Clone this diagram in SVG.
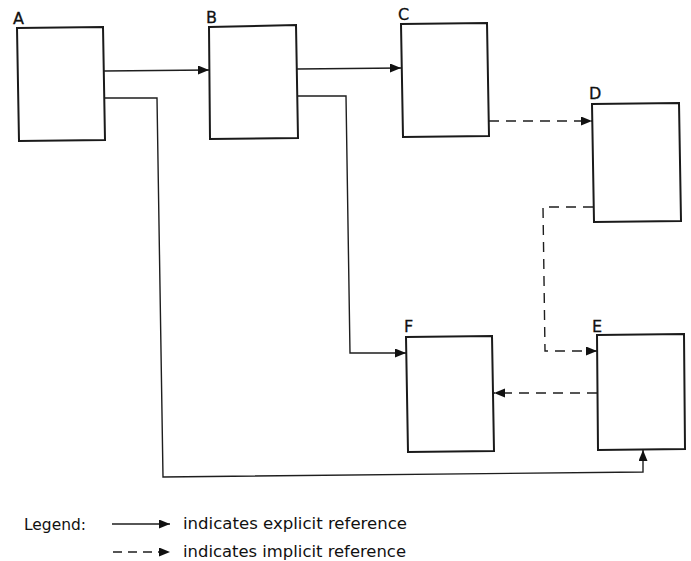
<svg xmlns="http://www.w3.org/2000/svg" width="691" height="561" viewBox="0 0 691 561">
  <style>
    .box { fill: #fff; stroke: #1a1a1a; stroke-width: 2; stroke-linejoin: miter; }
    .lbl { font-family: "DejaVu Sans", "Liberation Sans", sans-serif; font-size: 16px; fill: #111; stroke: #111; stroke-width: 0.3; }
    .wire { fill: none; stroke: #1e1e1e; stroke-width: 1.4; }
    .dash { stroke-dasharray: 10 7; }
    .legend { font-family: "DejaVu Sans", "Liberation Sans", sans-serif; font-size: 15px; fill: #111; }
  </style>
  <defs>
    <marker id="arrow" markerUnits="userSpaceOnUse" markerWidth="12" markerHeight="10" refX="11" refY="4.5" orient="auto">
      <path d="M0,0 L11,4.5 L0,9 Z" fill="#111"/>
    </marker>
  </defs>
  <rect width="691" height="561" fill="#fff"/>

  <!-- modules -->
  <g id="node-A">
    <path class="box" d="M17,28 L103,27 L105,140 L19,141 Z"/>
    <text class="lbl" x="13" y="24">A</text>
  </g>
  <g id="node-B">
    <path class="box" d="M209,27 L296,25 L298,138 L210,139 Z"/>
    <text class="lbl" x="206" y="23">B</text>
  </g>
  <g id="node-C">
    <path class="box" d="M401,24 L487,23 L489,136 L403,137 Z"/>
    <text class="lbl" x="398" y="20">C</text>
  </g>
  <g id="node-D">
    <path class="box" d="M592,104 L679,103 L681,221 L594,222 Z"/>
    <text class="lbl" x="589" y="99">D</text>
  </g>
  <g id="node-E">
    <path class="box" d="M597,335 L684,334 L685,449 L598,450 Z"/>
    <text class="lbl" x="592" y="332">E</text>
  </g>
  <g id="node-F">
    <path class="box" d="M406,337 L492,336 L494,451 L408,452 Z"/>
    <text class="lbl" x="404" y="332">F</text>
  </g>

  <!-- references between modules -->
  <g id="connectors">
    <path class="wire" d="M104,71 L209,70" marker-end="url(#arrow)"/>
    <path class="wire" d="M104,98 L157,98 L163,477 L643,472 L643,450" marker-end="url(#arrow)"/>
    <path class="wire" d="M297,69 L401,68" marker-end="url(#arrow)"/>
    <path class="wire" d="M297,96 L346,96 L350,353 L406,353" marker-end="url(#arrow)"/>
    <path class="wire dash" d="M489,121 L592,121" marker-end="url(#arrow)"/>
    <path class="wire dash" d="M593,207 L543,207 L545,351 L597,351" marker-end="url(#arrow)"/>
    <path class="wire dash" d="M597,393 L494,393" marker-end="url(#arrow)"/>
  </g>

  <!-- legend -->
  <g id="legend">
    <text class="legend" x="24" y="530" textLength="62" lengthAdjust="spacingAndGlyphs">Legend:</text>
    <path class="wire" d="M112,524 L170,524" marker-end="url(#arrow)"/>
    <text class="legend" x="183" y="529" textLength="224" lengthAdjust="spacingAndGlyphs">indicates explicit reference</text>
    <path class="wire" d="M113,552 L170,552" stroke-dasharray="9 6" marker-end="url(#arrow)"/>
    <text class="legend" x="183" y="557" textLength="223" lengthAdjust="spacingAndGlyphs">indicates implicit reference</text>
  </g>
</svg>
